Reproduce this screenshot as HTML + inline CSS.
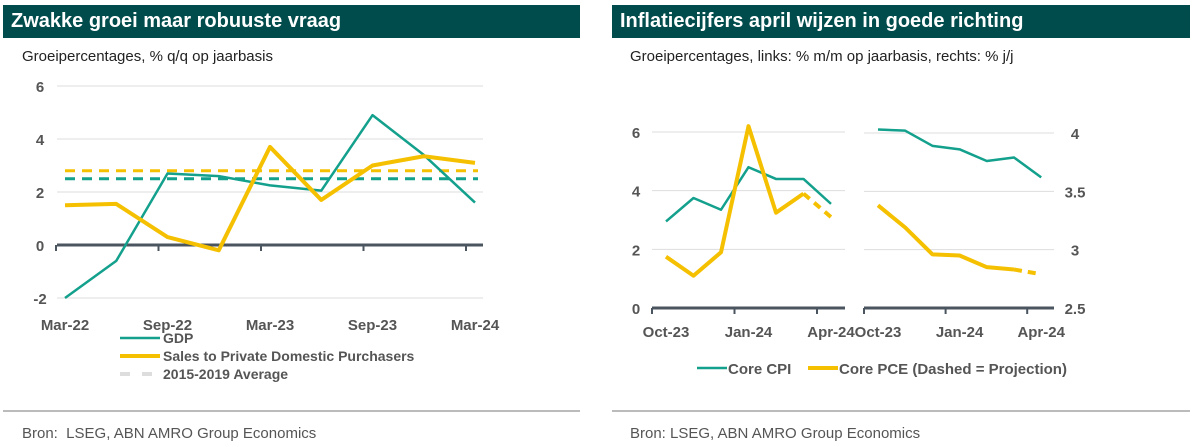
<!DOCTYPE html>
<html><head><meta charset="utf-8"><style>
body{margin:0;width:1192px;height:447px;background:#fff;font-family:"Liberation Sans",sans-serif;overflow:hidden;position:relative}
.hdr{position:absolute;top:5px;height:33px;background:#004c4c;color:#fff;font-weight:bold;font-size:20px;line-height:33px;padding-left:8px;box-sizing:border-box}
.sub{position:absolute;top:48px;font-size:15px;color:#222}
.rule{position:absolute;top:410px;height:2px;background:#bbb}
.src{position:absolute;top:425px;font-size:15px;color:#555}
svg{position:absolute;left:0;top:0}
</style></head><body>
<div class="hdr" style="left:3px;width:577px">Zwakke groei maar robuuste vraag</div>
<div class="hdr" style="left:612px;width:578px">Inflatiecijfers april wijzen in goede richting</div>
<div class="sub" style="left:22px">Groeipercentages, % q/q op jaarbasis</div>
<div class="sub" style="left:630px">Groeipercentages, links: % m/m op jaarbasis, rechts: % j/j</div>
<div class="rule" style="left:3px;width:577px"></div>
<div class="rule" style="left:612px;width:578px"></div>
<div class="src" style="left:22px">Bron:&nbsp; LSEG, ABN AMRO Group Economics</div>
<div class="src" style="left:630px">Bron: LSEG, ABN AMRO Group Economics</div>
<svg id="s" width="1192" height="447"></svg>
<script>
const qCats=["Mar-22","Jun-22","Sep-22","Dec-22","Mar-23","Jun-23","Sep-23","Dec-23","Mar-24"];
const qLabels=["Mar-22","Sep-22","Mar-23","Sep-23","Mar-24"];
const gdp=[-2.0,-0.6,2.7,2.6,2.25,2.05,4.9,3.4,1.6];
const sales=[1.5,1.55,0.3,-0.2,3.7,1.7,3.0,3.35,3.1];
const gdpAvg=2.5, salesAvg=2.8;
const leftTicks=[-2,0,2,4,6];
const mCats=["Oct-23","Nov-23","Dec-23","Jan-24","Feb-24","Mar-24","Apr-24"];
const mLabels=["Oct-23","Jan-24","Apr-24"];
const cpiMom=[2.95,3.75,3.35,4.8,4.4,4.4,3.55];
const pceMom=[1.75,1.1,1.9,6.2,3.25,3.9,3.1];
const cpiYoy=[4.03,4.02,3.89,3.86,3.76,3.79,3.62];
const pceYoy=[3.38,3.19,2.96,2.95,2.85,2.83,2.79];
const momTicks=[0,2,4,6];
const yoyTicks=[2.5,3,3.5,4];
const TEAL="#13a08c",GOLD="#f5c000",AX="#4a5560";
const s=document.getElementById('s');
function el(t,a,txt){const e=document.createElementNS('http://www.w3.org/2000/svg',t);for(const k in a)e.setAttribute(k,a[k]);if(txt!==undefined)e.textContent=txt;s.appendChild(e);return e;}
function line(pts,c,w,dash){return el('polyline',{points:pts.map(p=>p.join(',')).join(' '),fill:'none',stroke:c,'stroke-width':w,'stroke-linejoin':'round','stroke-dasharray':dash||'none'});}
// left chart
const lx=i=>65+i*51.25, ly=v=>245-v*26.5;
leftTicks.forEach(t=>{if(t!==0){const g=el('line',{x1:57,x2:483,y1:ly(t),y2:ly(t),stroke:'#ddd','stroke-width':1});

}
const tx=el('text',{x:40,y:ly(t)+6,'text-anchor':'middle','font-size':15,'font-weight':'bold',fill:'#555'},t);

});
let a=el('line',{x1:57,x2:483,y1:ly(0),y2:ly(0),stroke:AX,'stroke-width':3});


qLabels.forEach(l=>{const i=qCats.indexOf(l);const tk=el('line',{x1:lx(i)-9,x2:lx(i)-9,y1:ly(0),y2:ly(0)+6,stroke:AX,'stroke-width':2});


const tx=el('text',{x:lx(i),y:330,'text-anchor':'middle','font-size':15,'font-weight':'bold',fill:'#555'},l);

});
let d1=el('line',{x1:65,x2:478,y1:ly(salesAvg),y2:ly(salesAvg),stroke:GOLD,'stroke-width':3,'stroke-dasharray':'10 7'});


let d2=el('line',{x1:65,x2:478,y1:ly(gdpAvg),y2:ly(gdpAvg),stroke:TEAL,'stroke-width':3,'stroke-dasharray':'10 7'});


let g1=line(gdp.map((v,i)=>[lx(i),ly(v)]),TEAL,2.5);


let g2=line(sales.map((v,i)=>[lx(i),ly(v)]),GOLD,4);


// left legend
[[TEAL,2.5,'none','GDP',343],[GOLD,4,'none','Sales to Private Domestic Purchasers',361],['#ddd',4,'10 12','2015-2019 Average',379]].forEach(r=>{
const l=el('line',{x1:120,x2:160,y1:r[4]-5,y2:r[4]-5,stroke:r[0],'stroke-width':r[1],'stroke-dasharray':r[2]});


const t=el('text',{x:163,y:r[4],'font-size':14,'font-weight':'bold',fill:'#555'},r[3]);

});
// right chart - left panel
const mx=i=>666+i*27.5, my=v=>308-v*29.33;
momTicks.forEach(t=>{if(t!==0){const g=el('line',{x1:652,x2:845,y1:my(t),y2:my(t),stroke:'#ddd','stroke-width':1});

}
const tx=el('text',{x:636,y:my(t)+6,'text-anchor':'middle','font-size':15,'font-weight':'bold',fill:'#555'},t);

});
a=el('line',{x1:652,x2:845,y1:308,y2:308,stroke:AX,'stroke-width':3});


// right panel
const rx=i=>878+i*27.2, ry=v=>308-(v-2.5)*116.67;
yoyTicks.forEach(t=>{if(t!==2.5){const g=el('line',{x1:864,x2:1054,y1:ry(t),y2:ry(t),stroke:'#ddd','stroke-width':1});

}
const tx=el('text',{x:1075,y:ry(t)+6,'text-anchor':'middle','font-size':15,'font-weight':'bold',fill:'#555'},t);

});
a=el('line',{x1:864,x2:1054,y1:308,y2:308,stroke:AX,'stroke-width':3});


mLabels.forEach(l=>{const i=mCats.indexOf(l);
[[mx,666],[rx,878]].forEach(p=>{const f=p[0];const tk=el('line',{x1:f(i)-14,x2:f(i)-14,y1:308,y2:314,stroke:AX,'stroke-width':2});


const tx=el('text',{x:f(i),y:337,'text-anchor':'middle','font-size':15,'font-weight':'bold',fill:'#555'},l);

});});
const n=mCats.length;
let c1=line(cpiMom.map((v,i)=>[mx(i),my(v)]),TEAL,2.5);


let p1=line(pceMom.slice(0,n-1).map((v,i)=>[mx(i),my(v)]),GOLD,4);


let p1d=line([[mx(n-2),my(pceMom[n-2])],[mx(n-1),my(pceMom[n-1])]],GOLD,4,'8 6');


let c2=line(cpiYoy.map((v,i)=>[rx(i),ry(v)]),TEAL,2.5);


let p2=line(pceYoy.slice(0,n-1).map((v,i)=>[rx(i),ry(v)]),GOLD,4);


let p2d=line([[rx(n-2),ry(pceYoy[n-2])],[rx(n-1),ry(pceYoy[n-1])]],GOLD,4,'8 6');


// right legend
[[TEAL,2.5,'Core CPI',697],[GOLD,4,'Core PCE (Dashed = Projection)',808]].forEach(r=>{
const l=el('line',{x1:r[3],x2:r[3]+30,y1:368,y2:368,stroke:r[0],'stroke-width':r[1]});


const t=el('text',{x:r[3]+31,y:374,'font-size':15,'font-weight':'bold',fill:'#555'},r[2]);

});
</script>
</body></html>
